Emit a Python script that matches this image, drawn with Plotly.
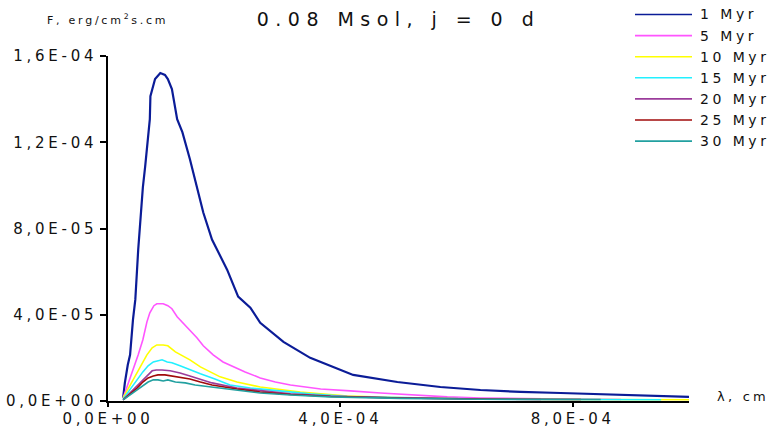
import plotly.graph_objects as go

# Wavelength in units of 1e-4 cm, flux in units of 1e-5 erg/cm^2/s/cm
LAM_UNIT = 1e-4
F_UNIT = 1e-5

series_names = ["1 Myr", "5 Myr", "10 Myr", "15 Myr", "20 Myr", "25 Myr", "30 Myr"]
series_colors = ["#0b1c97", "#ff55ff", "#ffff00", "#22f0ff", "#9b3c9b", "#a00a0a", "#22a0a0"]
series_widths = [2.2, 1.6, 1.6, 1.6, 1.6, 1.6, 1.6]

lam_1 = [0.26, 0.29, 0.34, 0.38, 0.43, 0.47, 0.52, 0.60, 0.64, 0.67, 0.72, 0.73, 0.78, 0.81,
         0.90, 0.98, 1.03, 1.10, 1.19, 1.28, 1.41, 1.53, 1.64, 1.79, 1.93, 2.05, 2.24, 2.45,
         2.62, 3.02, 3.48, 4.00, 4.22, 4.98, 5.72, 6.41, 7.10, 7.79, 8.83, 10.0]
flux_1 = [0.14, 0.84, 1.67, 2.14, 3.77, 4.70, 7.02, 9.91, 10.88, 11.81, 13.07, 14.14, 14.60, 14.93,
          15.21, 15.12, 14.93, 14.47, 13.07, 12.47, 11.21, 9.91, 8.74, 7.49, 6.70, 6.09, 4.84, 4.33,
          3.63, 2.74, 2.00, 1.44, 1.21, 0.88, 0.65, 0.51, 0.42, 0.37, 0.28, 0.19]

lam_5 = [0.26, 0.34, 0.43, 0.52, 0.60, 0.67, 0.72, 0.79, 0.84, 0.95, 1.03, 1.10, 1.19, 1.29,
         1.41, 1.53, 1.64, 1.81, 1.98, 2.16, 2.36, 2.62, 2.88, 3.14, 3.66, 4.17, 4.69, 5.84,
         6.41, 7.79, 8.83]
flux_5 = [0.14, 0.74, 1.44, 2.14, 2.84, 3.67, 4.09, 4.42, 4.51, 4.51, 4.42, 4.28, 3.91, 3.63,
          3.30, 2.93, 2.56, 2.14, 1.81, 1.58, 1.35, 1.07, 0.88, 0.74, 0.56, 0.47, 0.37, 0.19,
          0.14, 0.09, 0.07]

lam_10 = [0.26, 0.38, 0.50, 0.60, 0.67, 0.76, 0.84, 0.95, 1.03, 1.16, 1.28, 1.41, 1.59, 1.76,
          1.93, 2.22, 2.62, 3.31, 4.12, 5.26, 6.41, 8.14, 10.0]
flux_10 = [0.14, 0.74, 1.30, 1.81, 2.14, 2.47, 2.60, 2.60, 2.56, 2.28, 2.09, 1.91, 1.58, 1.35,
           1.12, 0.88, 0.65, 0.42, 0.23, 0.14, 0.09, 0.07, 0.06]

lam_15 = [0.26, 0.38, 0.50, 0.60, 0.69, 0.78, 0.84, 0.93, 1.02, 1.10, 1.24, 1.41, 1.59, 1.84,
          2.10, 2.45, 2.91, 3.48, 4.12, 5.26, 6.41, 8.14, 9.52]
flux_15 = [0.09, 0.51, 0.98, 1.35, 1.63, 1.81, 1.86, 1.91, 1.81, 1.77, 1.63, 1.44, 1.26, 1.02,
           0.74, 0.60, 0.47, 0.33, 0.21, 0.14, 0.09, 0.07, 0.06]

lam_20 = [0.26, 0.38, 0.50, 0.60, 0.69, 0.76, 0.83, 0.93, 1.07, 1.24, 1.41, 1.59, 1.79, 2.22,
          2.62, 3.14, 3.83, 5.03, 6.41, 7.45]
flux_20 = [0.05, 0.37, 0.70, 0.98, 1.21, 1.40, 1.44, 1.44, 1.40, 1.30, 1.16, 1.02, 0.84, 0.60,
           0.47, 0.33, 0.23, 0.14, 0.09, 0.07]

lam_25 = [0.26, 0.38, 0.50, 0.60, 0.69, 0.78, 0.86, 0.98, 1.10, 1.24, 1.41, 1.59, 1.79, 2.22,
          2.62, 3.14, 3.83, 5.03, 6.41, 8.14]
flux_25 = [0.05, 0.33, 0.60, 0.88, 1.07, 1.16, 1.21, 1.21, 1.16, 1.12, 1.02, 0.88, 0.74, 0.56,
           0.42, 0.30, 0.21, 0.14, 0.09, 0.07]

lam_30 = [0.26, 0.38, 0.50, 0.60, 0.69, 0.78, 0.86, 0.95, 1.03, 1.16, 1.33, 1.50, 1.76, 2.22,
          2.62, 3.14, 3.83, 5.03, 6.41, 8.48]
flux_30 = [0.05, 0.28, 0.51, 0.74, 0.88, 0.98, 0.98, 0.93, 0.98, 0.88, 0.84, 0.74, 0.65, 0.51,
           0.37, 0.28, 0.19, 0.12, 0.08, 0.07]

lam_all = [lam_1, lam_5, lam_10, lam_15, lam_20, lam_25, lam_30]
flux_all = [flux_1, flux_5, flux_10, flux_15, flux_20, flux_25, flux_30]

x_tick_vals = [0, 4e-4, 8e-4]
x_tick_text = ["0,0E+00", "4,0E-04", "8,0E-04"]
y_tick_vals = [0, 4e-5, 8e-5, 1.2e-4, 1.6e-4]
y_tick_text = ["0,0E+00", "4,0E-05", "8,0E-05", "1,2E-04", "1,6E-04"]

FONT = "DejaVu Sans"
W, H = 773, 428
ML, MR, MT, MB = 108, 84, 56, 27
PW, PH = W - ML - MR, H - MT - MB


def px_to_paper(px, py):
    return (px - ML) / PW, (H - MB - py) / PH


fig = go.Figure()
for name, color, width, lam, flux in zip(series_names, series_colors, series_widths, lam_all, flux_all):
    fig.add_trace(go.Scatter(
        x=[v * LAM_UNIT for v in lam],
        y=[v * F_UNIT for v in flux],
        mode="lines",
        name=name,
        line=dict(color=color, width=width),
        showlegend=False,
    ))

# Hand-drawn legend block at the upper right
shapes = []
annotations = []
for i, (name, color) in enumerate(zip(series_names, series_colors)):
    row_y = 14.5 + i * 21.1
    x0, y0 = px_to_paper(635, row_y)
    x1, _ = px_to_paper(692, row_y)
    shapes.append(dict(type="line", xref="paper", yref="paper", x0=x0, x1=x1, y0=y0, y1=y0,
                       line=dict(color=color, width=1.6)))
    tx, _ = px_to_paper(698, row_y)
    annotations.append(dict(xref="paper", yref="paper", x=tx, y=y0, text=name, showarrow=False,
                            xanchor="left", yanchor="middle", align="left",
                            font=dict(family=FONT, size=14, color="#111")))

ax, ay = px_to_paper(45, 19)
annotations.append(dict(xref="paper", yref="paper", x=ax, y=ay, text="F, erg/cm<sup>2</sup>s.cm",
                        showarrow=False, xanchor="left", yanchor="middle", align="left",
                        font=dict(family=FONT, size=11, color="#111")))
lx, ly = px_to_paper(715, 396)
annotations.append(dict(xref="paper", yref="paper", x=lx, y=ly, text="λ, cm",
                        showarrow=False, xanchor="left", yanchor="middle", align="left",
                        font=dict(family=FONT, size=13, color="#111")))

fig.update_layout(
    width=W, height=H,
    margin=dict(l=ML, r=MR, t=MT, b=MB, autoexpand=False),
    paper_bgcolor="white", plot_bgcolor="white",
    title=dict(text="0.08 Msol, j = 0 d", x=0.5, xref="paper", y=1 - 19 / H, yref="container",
               xanchor="center", yanchor="middle",
               font=dict(family=FONT, size=19, color="#111")),
    font=dict(family=FONT, size=14, color="#111"),
    shapes=shapes,
    annotations=annotations,
    xaxis=dict(range=[0, 1e-3], showgrid=False, zeroline=False, showline=True, automargin=False,
               linecolor="black", linewidth=1.5, ticks="outside", ticklen=4, tickwidth=1.5,
               tickcolor="black", tickvals=x_tick_vals, ticktext=x_tick_text,
               ticklabelstandoff=-1,
               tickfont=dict(family=FONT, size=15, color="#111")),
    yaxis=dict(range=[0, 1.6e-4], showgrid=False, zeroline=False, showline=True, automargin=False,
               linecolor="black", linewidth=1.5, ticks="outside", ticklen=6, tickwidth=1.5,
               tickcolor="black", tickvals=y_tick_vals, ticktext=y_tick_text,
               tickfont=dict(family=FONT, size=15, color="#111")),
)

# Wide letter spacing for the labels
post = """
var st = document.createElement('style');
st.textContent = '.xtick text, .ytick text, .annotation-text {letter-spacing: 0.25em;} .gtitle {letter-spacing: 0.34em;}';
document.head.appendChild(st);
"""
fig.write_html("out.html", post_script=post)
